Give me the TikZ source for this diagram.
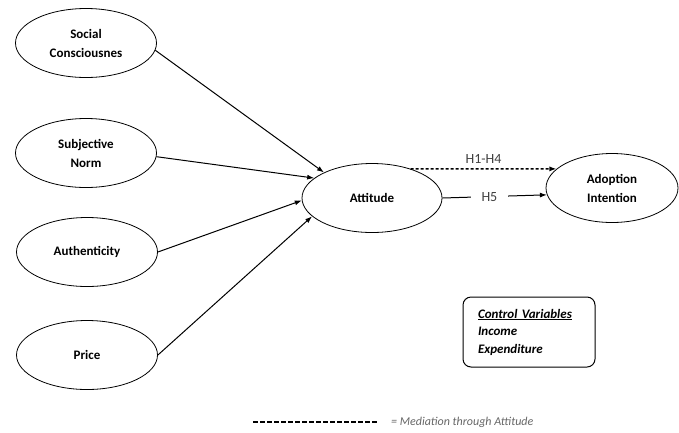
\documentclass[tikz,border=0pt]{standalone}
\usepackage{fontspec}
\setmainfont{Carlito}
\usetikzlibrary{arrows.meta, shapes.geometric, positioning}

\begin{document}
\begin{tikzpicture}[x=1pt, y=-1pt,
    e/.style={ellipse, draw, line width=0.8pt, minimum width=141pt, minimum height=69pt,
      inner sep=1pt, align=center, font=\fontsize{13}{19}\selectfont\bfseries},
    a/.style={line width=1pt, -{Latex[length=7pt, width=5pt]}},
    lbl/.style={font=\fontsize{14}{16}\selectfont, text=black!75}]
      \useasboundingbox (0,0) rectangle (679,432);

      \draw (86,43) node[e] (sc) {Social\\Consciousnes};
      \draw (86,153) node[e] (sn) {Subjective\\Norm};
      \draw (87,252) node[e] (au) {Authenticity};
      \draw (87,355) node[e] (pr) {Price};
      \draw (372,198) node[e, minimum width=140pt] (att) {Attitude};
      \draw (612,188) node[e, minimum width=132pt] (ai) {Adoption\\Intention};

      \draw[a] (sc.-6) -- (att.152);
      \draw[a] (sn.-3) -- (att.161);
      \draw[a] (au.east) -- (att.182);
      \draw[a] (pr.east) -- (att.197);

      \draw[a, line width=1.3pt, dash pattern=on 3pt off 2pt] (att.37) --
        node[lbl, above=1pt] (h14) {H1-H4} (ai.161);
      \draw[a] (att.east) -- node[lbl, fill=white, inner xsep=11pt, pos=0.45] (h5) {H5} (ai.186);

      \draw (529,332) node[draw, rounded corners=8pt, line width=1pt, text width=102pt,
        inner xsep=15pt, minimum height=70pt, align=left,
        font=\fontsize{13}{17.5}\selectfont\bfseries\itshape]
        (cv) {\underline{Control Variables}\\Income\\Expenditure};

      % legend
      \coordinate (l1) at (253,422);
      \coordinate (l2) at (377,422);
      \draw[line width=1.3pt, dash pattern=on 5pt off 2pt] (l1) -- (l2);
      \draw node[right=14pt of l2, inner sep=0pt, font=\fontsize{12}{14}\selectfont\itshape, text=black!60]
        (leg) {= Mediation through Attitude};
\end{tikzpicture}
\end{document}
